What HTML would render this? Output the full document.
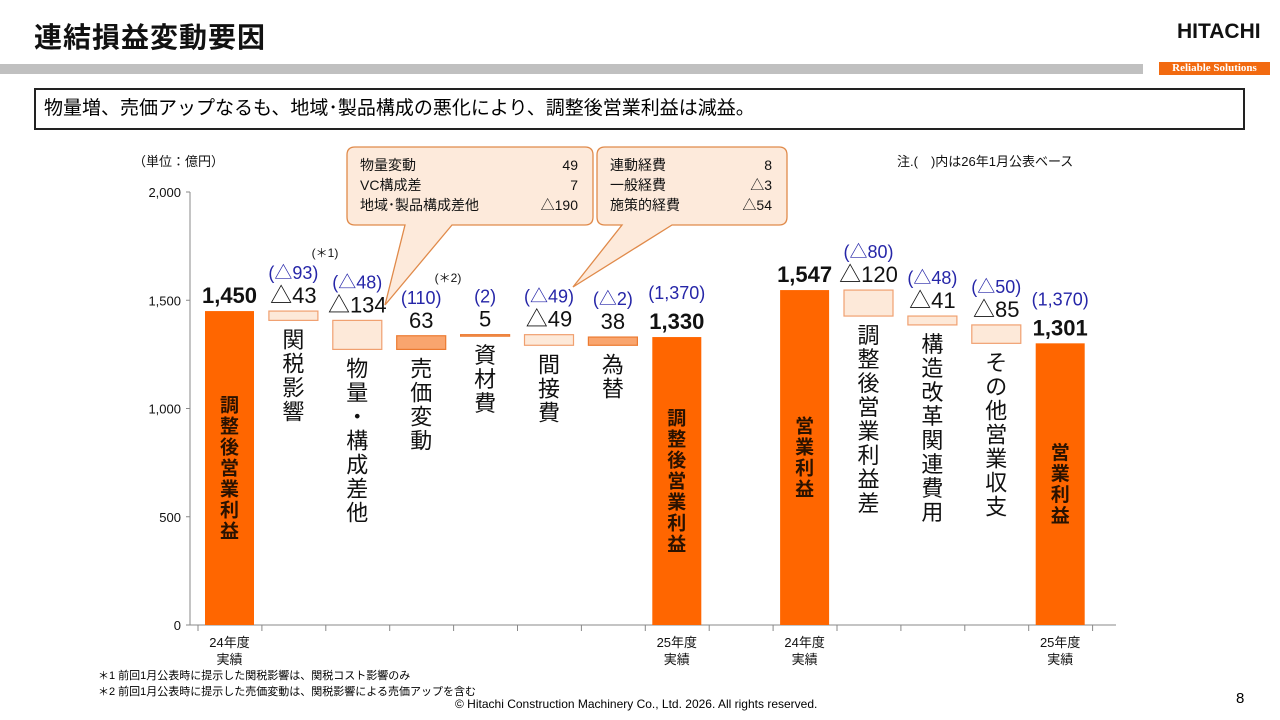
<!DOCTYPE html>
<html><head><meta charset="utf-8">
<style>
body{margin:0;width:1280px;height:720px;background:#fff;overflow:hidden;position:relative;font-family:"Liberation Sans","Noto Sans CJK JP",sans-serif}
.abs{position:absolute}
.title{left:34px;top:16px;font-size:28px;font-weight:bold;color:#111;letter-spacing:1px}
.msg{left:34px;top:88px;border:2px solid #222;font-size:19px;line-height:38px;padding-left:8px;box-sizing:border-box;width:1211px;height:42px}
svg text{font-family:"Liberation Sans","Noto Sans CJK JP",sans-serif}
</style></head><body>
<div class="abs title">連結損益変動要因</div>
<div class="abs" style="left:1177px;top:20px;font-size:21px;font-weight:bold;color:#111;letter-spacing:0px">HITACHI</div>
<div class="abs" style="left:0;top:64px;width:1143px;height:10px;background:#c0c0c0"></div>
<div class="abs" style="left:1159px;top:62px;width:111px;height:13px;background:#f26a10;color:#fff;font-size:11px;line-height:13px;text-align:center;font-family:'Liberation Serif',serif;font-weight:bold">Reliable Solutions</div>
<div class="abs msg">物量増、売価アップなるも、地域･製品構成の悪化により、調整後営業利益は減益。</div>

<svg id="chart" class="abs" style="left:0;top:0" width="1280" height="720"></svg>

<div class="abs" style="left:98px;top:667px;font-size:11px">＊1 前回1月公表時に提示した関税影響は、関税コスト影響のみ</div>
<div class="abs" style="left:98px;top:683px;font-size:11px">＊2 前回1月公表時に提示した売価変動は、関税影響による売価アップを含む</div>
<div class="abs" style="left:455px;top:697px;font-size:12px">© Hitachi Construction Machinery Co., Ltd. 2026. All rights reserved.</div>
<div class="abs" style="left:1236px;top:690px;font-size:15px">8</div>

<script>
const categories=["調整後営業利益","関税影響","物量・構成差他","売価変動","資材費","間接費","為替","調整後営業利益","営業利益","調整後営業利益差","構造改革関連費用","その他営業収支","営業利益"];
const values=[1450,-43,-134,63,5,-49,38,1330,1547,-120,-41,-85,1301];
const kinds=["total","delta","delta","delta","delta","delta","delta","total","total","delta","delta","delta","total"];
const valueLabels=["1,450","△43","△134","63","5","△49","38","1,330","1,547","△120","△41","△85","1,301"];
const prevLabels=["","(△93)","(△48)","(110)","(2)","(△49)","(△2)","(1,370)","","(△80)","(△48)","(△50)","(1,370)"];
const slots=[0,1,2,3,4,5,6,7,9,10,11,12,13];
const yTicks=[0,500,1000,1500,2000];
const yTickLabels=["0","500","1,000","1,500","2,000"];
const xLabels=[[0,"24年度","実績"],[7,"25年度","実績"],[9,"24年度","実績"],[13,"25年度","実績"]];

const svg=document.getElementById('chart');
const NS='http://www.w3.org/2000/svg';
const y=v=>625-v*(433/2000);
const slotX=s=>205+s*63.9;
function mk(t,a,p){const e=document.createElementNS(NS,t);for(const k in a)e.setAttribute(k,a[k]);(p||svg).appendChild(e);return e;}

let ax=mk('line',{x1:190,y1:192,x2:190,y2:625,stroke:'#888','stroke-width':1});

let xa=mk('line',{x1:190,y1:625,x2:1116,y2:625,stroke:'#888','stroke-width':1});

yTicks.forEach((v,i)=>{
  const t=mk('text',{x:181,y:y(v)+5,'text-anchor':'end','font-size':13,fill:'#111'});t.textContent=yTickLabels[i];
  
  mk('line',{x1:186,y1:y(v),x2:190,y2:y(v),stroke:'#888'});
});
for(let s=0;s<=14;s++){mk('line',{x1:slotX(s)-7,y1:625,x2:slotX(s)-7,y2:631,stroke:'#888'});}
let u=mk('text',{x:133,y:166,'font-size':13,fill:'#111'});u.textContent='（単位：億円）';

let n=mk('text',{x:897,y:166,'font-size':13,fill:'#111'});n.textContent='注.(　)内は26年1月公表ベース';


function callout(x,yy,w,h,px,py,bx1,bx2,lines,nm){
  const g=mk('g',{});
  mk('path',{d:`M${x+8},${yy} H${x+w-8} Q${x+w},${yy} ${x+w},${yy+8} V${yy+h-8} Q${x+w},${yy+h} ${x+w-8},${yy+h} H${bx2} L${px},${py} L${bx1},${yy+h} H${x+8} Q${x},${yy+h} ${x},${yy+h-8} V${yy+8} Q${x},${yy} ${x+8},${yy} Z`,fill:'#fdeadb',stroke:'#e08a4a','stroke-width':1.3},g);
  lines.forEach((l,i)=>{
    const a=mk('text',{x:x+13,y:yy+23+i*20,'font-size':14,fill:'#111'},g);a.textContent=l[0];
    const b=mk('text',{x:x+w-15,y:yy+23+i*20,'font-size':14,fill:'#111','text-anchor':'end'},g);b.textContent=l[1];
  });
}
callout(347,147,246,78,385,305,405,452,[["物量変動","49"],["VC構成差","7"],["地域･製品構成差他","△190"]],'callout-volume');
callout(597,147,190,78,573,287,622,672,[["連動経費","8"],["一般経費","△3"],["施策的経費","△54"]],'callout-expenses');

let run=0;
values.forEach((v,i)=>{
  const x=slotX(slots[i]);const w=49;let top,bot,fill,stroke;
  if(kinds[i]==='total'){run=v;top=y(v);bot=y(0);fill='#ff6600';stroke='none';}
  else{const a=run,b=run+v;run=b;top=y(Math.max(a,b));bot=y(Math.min(a,b));
    if(v<0){fill='#fde9d9';stroke='#f0a070';}else{fill='#f9a56e';stroke='#ec7a30';}}
  const h=Math.max(bot-top,1.5);
  const r=mk('rect',{x:x,y:top,width:w,height:h,fill:fill,stroke:stroke,'stroke-width':1.2});
  
  const cx=x+w/2;
  const vl=mk('text',{x:cx,y:top-8,'text-anchor':'middle','font-size':kinds[i]==='total'?22:22,'font-weight':kinds[i]==='total'?'bold':'normal',fill:'#111'});
  vl.textContent=valueLabels[i];
  
  if(prevLabels[i]){const pl=mk('text',{x:cx,y:top-(kinds[i]==='total'?38:32),'text-anchor':'middle','font-size':18,fill:'#2626a8'});pl.textContent=prevLabels[i];
    }
  const chars=[...categories[i]];
  if(kinds[i]==='total'){
    const sy=(top+bot)/2-chars.length*21/2+17;
    chars.forEach((c,k)=>{const t=mk('text',{x:cx,y:sy+k*21,'text-anchor':'middle','font-size':19,'font-weight':'bold',fill:'#2a1200'});t.textContent=c;
      });
  }else{
    chars.forEach((c,k)=>{const t=mk('text',{x:cx,y:bot+27+k*24,'text-anchor':'middle','font-size':22,fill:'#111'});t.textContent=c;
      });
  }
});
let s1=mk('text',{x:325,y:257,'text-anchor':'middle','font-size':12,fill:'#111'});s1.textContent='(＊1)';

let s2=mk('text',{x:448,y:282,'text-anchor':'middle','font-size':12,fill:'#111'});s2.textContent='(＊2)';

xLabels.forEach(l=>{
  const cx=slotX(l[0])+24.5;
  const a=mk('text',{x:cx,y:647,'text-anchor':'middle','font-size':13,fill:'#111'});a.textContent=l[1];
  
  const b=mk('text',{x:cx,y:664,'text-anchor':'middle','font-size':13,fill:'#111'});b.textContent=l[2];
  
});
</script>
</body></html>
